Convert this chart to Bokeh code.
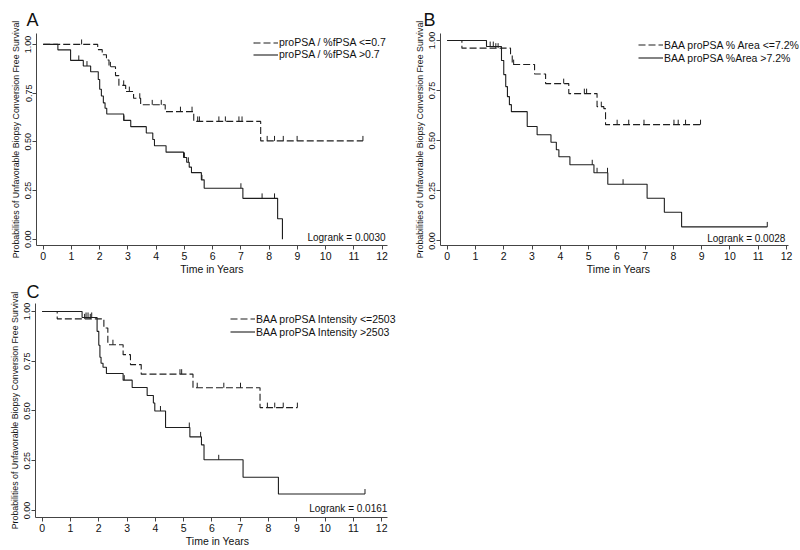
import numpy as np
from bokeh.plotting import figure
from bokeh.models import Label, Legend, LegendItem, NumeralTickFormatter, FixedTicker, Range1d, Title
from bokeh.layouts import column, row
from bokeh.embed import file_html
from bokeh.resources import INLINE

FONT = "Liberation Sans"
INK = "#1e1e1e"

# ---------------- data ----------------
x_ticks = list(range(0, 13))
y_ticks = [0.0, 0.25, 0.5, 0.75, 1.0]
y_label = "Probabilities of Unfavorable Biopsy Conversion Free Survival"

# Panel A
A_lo_label = "proPSA / %fPSA <=0.7"
A_lo_times = [1.93, 2.09, 2.24, 2.33, 2.56, 2.68, 2.92, 3.2, 3.45, 4.32, 5.33, 7.7]
A_lo_surv = [0.973, 0.947, 0.92, 0.885, 0.84, 0.79, 0.758, 0.724, 0.69, 0.655, 0.605, 0.505]
A_lo_end = 11.32
A_lo_cens = [1.36, 2.38, 2.85, 3.05, 3.42, 3.86, 4.18, 4.86, 5.27, 5.47, 5.53,
             6.22, 6.45, 6.93, 7.04, 7.93, 8.19, 8.5, 8.99, 11.32]
A_hi_label = "proPSA / %fPSA >0.7"
A_hi_times = [0.52, 0.97, 1.42, 1.68, 1.95, 2.0, 2.06, 2.13, 2.19, 2.25, 2.85, 3.1, 3.65,
              3.88, 3.94, 4.35, 4.97, 5.08, 5.17, 5.25, 5.6, 5.7, 7.07, 8.3, 8.47]
A_hi_surv = [0.972, 0.918, 0.889, 0.86, 0.82, 0.77, 0.735, 0.70, 0.672, 0.643, 0.61, 0.578,
             0.545, 0.512, 0.48, 0.447, 0.42, 0.395, 0.37, 0.342, 0.305, 0.262, 0.21, 0.105, 0.0]
A_hi_end = 8.47
A_hi_cens = [1.26, 1.55, 2.86, 5.0, 5.14, 5.62, 7.0, 7.75, 8.19]
A_logrank = "Logrank = 0.0030"

# Panel B
B_lo_label = "BAA proPSA % Area <=7.2%"
B_lo_times = [0.52, 2.24, 2.3, 3.09, 3.48, 4.3, 5.3, 5.54, 5.6]
B_lo_surv = [0.962, 0.93, 0.88, 0.833, 0.785, 0.735, 0.67, 0.66, 0.58]
B_lo_end = 8.96
B_lo_cens = [1.72, 1.8, 2.35, 4.12, 4.85, 4.93, 5.45, 6.01, 6.42, 6.96, 8.02, 8.17, 8.43, 8.96]
B_hi_label = "BAA proPSA %Area >7.2%"
B_hi_times = [1.39, 1.92, 2.0, 2.07, 2.13, 2.2, 2.27, 2.83, 3.18, 3.67, 3.86, 3.95, 4.34,
              5.19, 5.68, 7.07, 7.68, 8.29]
B_hi_surv = [0.97, 0.90, 0.83, 0.77, 0.72, 0.68, 0.645, 0.571, 0.53, 0.492, 0.455, 0.42,
             0.38, 0.34, 0.283, 0.213, 0.143, 0.07]
B_hi_end = 11.32
B_hi_cens = [1.52, 1.63, 5.13, 5.3, 5.67, 6.22, 11.32]
B_logrank = "Logrank = 0.0028"

# Panel C
C_lo_label = "BAA proPSA Intensity <=2503"
C_lo_times = [0.53, 2.18, 2.32, 2.86, 3.12, 3.5, 5.33, 7.7]
C_lo_surv = [0.963, 0.917, 0.833, 0.783, 0.733, 0.685, 0.617, 0.517]
C_lo_end = 9.02
C_lo_cens = [1.5, 1.7, 2.5, 4.87, 4.93, 5.48, 6.42, 7.01, 7.96, 8.22, 8.52, 9.02]
C_hi_label = "BAA proPSA Intensity >2503"
C_hi_times = [1.41, 1.94, 2.0, 2.04, 2.08, 2.15, 2.27, 2.86, 3.18, 3.71, 3.93, 3.98, 4.36,
              5.22, 5.63, 5.72, 7.1, 8.35]
C_hi_surv = [0.97, 0.90, 0.83, 0.77, 0.74, 0.72, 0.688, 0.655, 0.618, 0.578, 0.54, 0.50,
             0.417, 0.37, 0.33, 0.255, 0.167, 0.083]
C_hi_end = 11.41
C_hi_cens = [1.55, 1.62, 1.75, 2.9, 4.18, 5.2, 5.6, 6.24, 11.41]
C_logrank = "Logrank = 0.0161"


def km_xy(times, surv, end):
    xs = [0.0] + list(times)
    ys = [1.0] + list(surv)
    if end > xs[-1]:
        xs.append(end)
        ys.append(ys[-1])
    return xs, ys


def surv_at(times, surv, t):
    idx = np.searchsorted(np.array(times), t, side="right")
    return 1.0 if idx == 0 else surv[idx - 1]


def make_panel(letter, xlabel, curves, logrank, geom):
    (fw, fh, bl, br, bt, bb, xr, xbounds, yr, title_off, title_standoff,
     leg_loc, row_h, log_xy) = geom
    p = figure(width=fw, height=fh, output_backend="svg", toolbar_location=None,
               x_range=Range1d(*xr), y_range=Range1d(*yr),
               min_border_left=bl, min_border_right=br, min_border_top=bt, min_border_bottom=bb)
    p.title = Title(text=letter, align="left", offset=title_off, standoff=title_standoff,
                    text_font=FONT, text_font_size="18px", text_font_style="normal",
                    text_color="#111111")
    p.outline_line_color = None
    p.xgrid.visible = False
    p.ygrid.visible = False
    p.background_fill_color = "white"
    p.border_fill_color = "white"

    frame_h = fh - bt - bb
    tick_len = 5.0 * (yr[1] - yr[0]) / frame_h

    items = []
    for (label, times, surv, end, cens, dash) in curves:
        xs, ys = km_xy(times, surv, end)
        r = p.step(xs, ys, mode="after", line_color=INK, line_width=1.1,
                   line_dash=dash)
        cy = [surv_at(times, surv, c) for c in cens]
        p.segment(x0=cens, y0=cy, x1=cens, y1=[v + tick_len for v in cy],
                  line_color=INK, line_width=1.0)
        items.append(LegendItem(label=label, renderers=[r]))

    leg = Legend(items=items, location=leg_loc, padding=0, margin=0, spacing=0,
                 glyph_width=25, glyph_height=row_h, label_height=row_h,
                 label_standoff=1, label_text_font=FONT, label_text_font_size="10.5px",
                 label_text_color="#111111", background_fill_alpha=0,
                 border_line_alpha=0)
    p.add_layout(leg, "center")

    p.add_layout(Label(x=log_xy[0], y=log_xy[1], text=logrank, text_align="right",
                       text_baseline="middle", text_font=FONT, text_font_size="10px",
                       text_color="#111111"))

    xa = p.xaxis[0]
    xa.ticker = FixedTicker(ticks=x_ticks)
    xa.bounds = xbounds
    xa.minor_tick_line_color = None
    xa.major_tick_in = 0
    xa.major_tick_out = 4
    xa.axis_line_color = "#444444"
    xa.major_tick_line_color = "#444444"
    xa.major_label_text_font = FONT
    xa.major_label_text_font_size = "10.5px"
    xa.major_label_text_color = "#111111"
    xa.major_label_standoff = 2
    xa.axis_label = xlabel
    xa.axis_label_text_font = FONT
    xa.axis_label_text_font_size = "10.5px"
    xa.axis_label_text_font_style = "normal"
    xa.axis_label_text_color = "#111111"
    xa.axis_label_standoff = 0

    ya = p.yaxis[0]
    ya.ticker = FixedTicker(ticks=y_ticks)
    ya.formatter = NumeralTickFormatter(format="0.00")
    ya.minor_tick_line_color = None
    ya.major_tick_in = 0
    ya.major_tick_out = 4
    ya.axis_line_color = "#444444"
    ya.major_tick_line_color = "#444444"
    ya.major_label_orientation = "vertical"
    ya.major_label_text_font = FONT
    ya.major_label_text_font_size = "9px"
    ya.major_label_text_color = "#111111"
    ya.major_label_standoff = 1
    ya.axis_label = y_label
    ya.axis_label_text_font = FONT
    ya.axis_label_text_font_size = "8.8px"
    ya.axis_label_text_font_style = "normal"
    ya.axis_label_text_color = "#111111"
    ya.axis_label_standoff = 2
    return p


DASH = "7 3"
# width, height, borders l r t b, x range, x-axis bounds, y range, title offset/standoff,
# legend location, legend row height, logrank position
geomA = (400, 277, 36, 13, 33, 30, (-0.237, 12.19), (-0.237, 12.19), (-0.032, 1.056), -10, 8,
         (217, 185), 11, (12.12, 0.009))
geomB = (400, 277, 40, 1, 33, 30, (-0.237, 12.46), (-0.237, 12.07), (-0.023, 1.035), -17, 8,
         (198, 181), 13, (11.96, 0.011))
geomC = (400, 272, 35, 1, 25, 32, (-0.237, 12.63), (-0.237, 12.21), (-0.035, 1.04), -9, 4,
         (195, 179), 13, (12.2, 0.008))

pA = make_panel("A", "Time in Years",
                [(A_lo_label, A_lo_times, A_lo_surv, A_lo_end, A_lo_cens, DASH),
                 (A_hi_label, A_hi_times, A_hi_surv, A_hi_end, A_hi_cens, "solid")],
                A_logrank, geomA)
pB = make_panel("B", "Time in  Years",
                [(B_lo_label, B_lo_times, B_lo_surv, B_lo_end, B_lo_cens, DASH),
                 (B_hi_label, B_hi_times, B_hi_surv, B_hi_end, B_hi_cens, "solid")],
                B_logrank, geomB)
pC = make_panel("C", "Time in Years",
                [(C_lo_label, C_lo_times, C_lo_surv, C_lo_end, C_lo_cens, DASH),
                 (C_hi_label, C_hi_times, C_hi_surv, C_hi_end, C_hi_cens, "solid")],
                C_logrank, geomC)

layout = column(row(pA, pB), row(pC))
open("out.html", "w").write(file_html(layout, INLINE))
